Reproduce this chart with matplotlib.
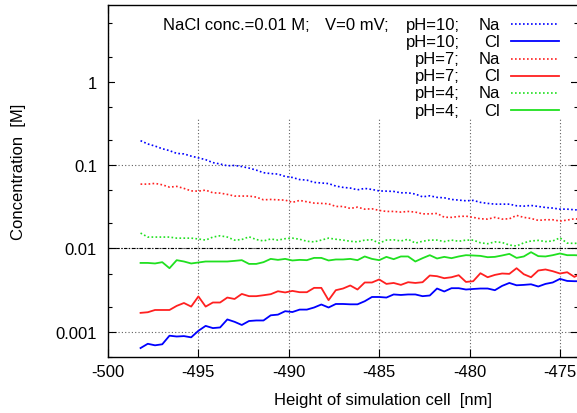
import matplotlib
matplotlib.use('Agg')
import matplotlib.pyplot as plt
import matplotlib.ticker as mticker
from matplotlib.patches import Rectangle
import numpy as np

plt.rcParams['font.family'] = ['Liberation Sans', 'DejaVu Sans']
plt.rcParams['font.size'] = 12
plt.rcParams['axes.unicode_minus'] = False

# sampling positions along the cell [nm]
height = np.round(-498.2 + 0.4 * np.arange(62), 1)

na_ph10 = [0.196, 0.179, 0.169, 0.157, 0.149, 0.138, 0.136, 0.128, 0.122, 0.116,
           0.107, 0.103, 0.098, 0.099, 0.096, 0.092, 0.087, 0.081, 0.079, 0.078,
           0.073, 0.071, 0.067, 0.066, 0.062, 0.061, 0.060, 0.056, 0.054, 0.053,
           0.0505, 0.0525, 0.051, 0.049, 0.0487, 0.0483, 0.0465, 0.0465, 0.0449, 0.0416,
           0.0428, 0.041, 0.0405, 0.0387, 0.038, 0.0373, 0.0377, 0.0357, 0.0347, 0.034,
           0.034, 0.034, 0.0325, 0.0322, 0.0328, 0.0319, 0.031, 0.0305, 0.0296, 0.0296,
           0.0291, 0.0288]
cl_ph10 = [0.00064, 0.00072, 0.00069, 0.00071, 0.00090, 0.00088, 0.00089, 0.00086, 0.00103, 0.00118,
           0.00111, 0.00113, 0.00141, 0.00132, 0.00121, 0.00135, 0.00137, 0.00137, 0.00158, 0.00161,
           0.00177, 0.00173, 0.00185, 0.00185, 0.00196, 0.00213, 0.00196, 0.00216, 0.00216, 0.00214,
           0.00214, 0.00233, 0.00262, 0.00262, 0.00258, 0.00281, 0.00277, 0.00281, 0.00281, 0.00268,
           0.00273, 0.00331, 0.00305, 0.00334, 0.00334, 0.00322, 0.00327, 0.00331, 0.00331, 0.00316,
           0.00356, 0.00386, 0.00362, 0.00366, 0.00372, 0.00350, 0.00376, 0.00391, 0.00432, 0.00408,
           0.00405, 0.00405]
na_ph7 = [0.0591, 0.0591, 0.0603, 0.058, 0.0544, 0.0555, 0.0525, 0.049, 0.0487, 0.0501,
          0.0465, 0.0461, 0.0445, 0.0425, 0.0425, 0.0425, 0.0413, 0.0383, 0.0387, 0.0383,
          0.038, 0.0357, 0.0377, 0.0363, 0.035, 0.0347, 0.0343, 0.0319, 0.0319, 0.0302,
          0.0313, 0.0296, 0.0299, 0.0286, 0.0278, 0.0278, 0.0273, 0.0278, 0.0273, 0.026,
          0.026, 0.0263, 0.0237, 0.0236, 0.0242, 0.0244, 0.0236, 0.0227, 0.0225, 0.0236,
          0.0225, 0.0227, 0.0249, 0.0236, 0.0229, 0.0217, 0.0221, 0.0221, 0.0213, 0.0219,
          0.0227, 0.0223]
cl_ph7 = [0.00169, 0.00172, 0.00183, 0.00183, 0.00183, 0.00205, 0.00222, 0.00201, 0.00266, 0.00201,
          0.00225, 0.00225, 0.00258, 0.00248, 0.00285, 0.00268, 0.00268, 0.00275, 0.00283, 0.00307,
          0.00297, 0.00310, 0.00299, 0.00299, 0.00337, 0.00337, 0.00240, 0.00316, 0.00331, 0.00360,
          0.00322, 0.00391, 0.00391, 0.00425, 0.00376, 0.00386, 0.00366, 0.00394, 0.00386, 0.00394,
          0.00474, 0.00465, 0.00440, 0.00452, 0.00478, 0.00397, 0.00405, 0.00505, 0.00452, 0.00482,
          0.00501, 0.00496, 0.00580, 0.00491, 0.00452, 0.00544, 0.00560, 0.00534, 0.00501, 0.00519,
          0.00456, 0.00509]
na_ph4 = [0.0153, 0.0137, 0.0137, 0.0137, 0.0137, 0.0133, 0.0133, 0.0133, 0.0130, 0.0126,
          0.0137, 0.0142, 0.0137, 0.0126, 0.0128, 0.0138, 0.0128, 0.0123, 0.0130, 0.0126,
          0.0131, 0.0133, 0.0129, 0.0122, 0.0120, 0.0126, 0.0133, 0.0129, 0.0126, 0.0122,
          0.0120, 0.0126, 0.0127, 0.0116, 0.0126, 0.0127, 0.0123, 0.0129, 0.0116, 0.0122,
          0.0126, 0.0126, 0.0121, 0.0126, 0.0122, 0.0126, 0.0126, 0.0117, 0.0114, 0.0120,
          0.0118, 0.0110, 0.0107, 0.0117, 0.0123, 0.0125, 0.0121, 0.0123, 0.0134, 0.0116,
          0.0115, 0.0117]
cl_ph4 = [0.00671, 0.00671, 0.00661, 0.00685, 0.00580, 0.00724, 0.00698, 0.00661, 0.00679, 0.00698,
          0.00698, 0.00698, 0.00698, 0.00710, 0.00724, 0.00653, 0.00653, 0.00685, 0.00750, 0.00730,
          0.00750, 0.00718, 0.00730, 0.00724, 0.00771, 0.00771, 0.00718, 0.00738, 0.00738, 0.00750,
          0.00724, 0.00802, 0.00750, 0.00724, 0.00793, 0.00744, 0.00802, 0.00802, 0.00698, 0.00765,
          0.00831, 0.00758, 0.00793, 0.00765, 0.00802, 0.00831, 0.00824, 0.00815, 0.00786, 0.00793,
          0.00824, 0.00861, 0.00771, 0.00802, 0.00903, 0.00809, 0.00802, 0.00831, 0.00871, 0.00831,
          0.00831, 0.00824]

series = [
    (na_ph10, 'blue', 'dot', 'pH=10;', 'Na'),
    (cl_ph10, 'blue', 'solid', 'pH=10;', 'Cl'),
    (na_ph7, '#ff2020', 'dot', 'pH=7;', 'Na'),
    (cl_ph7, '#ff2020', 'solid', 'pH=7;', 'Cl'),
    (na_ph4, '#20e020', 'dot', 'pH=4;', 'Na'),
    (cl_ph4, '#20e020', 'solid', 'pH=4;', 'Cl'),
]

fig = plt.figure(figsize=(5.77, 4.14), dpi=100)
ax = fig.add_axes([0.1872, 0.1353, 0.8146, 0.8502])

ax.set_yscale('log')
ax.set_xlim(-500, -474)
ax.set_ylim(5e-4, 8.3)

dotted = (0, (1, 1.4))
for vals, col, style, ph, ion in series:
    ls = dotted if style == 'dot' else '-'
    lw = 1.2 if style == 'dot' else 1.3
    ax.plot(height, vals, color=col, ls=ls, lw=lw, zorder=3)

# reference concentration line
ax.axhline(0.01, color='black', lw=0.8, ls=(0, (3, 1.5, 1, 1.5)), zorder=2)

# grid
ax.grid(True, which='major', color='#606060', ls=(0, (1, 2)), lw=0.8)
ax.set_axisbelow(True)

# opaque key area
ax.add_patch(Rectangle((0.015, 0.676), 0.97, 0.32, transform=ax.transAxes,
                       facecolor='white', edgecolor='none', zorder=1))

ax.set_xticks([-500, -495, -490, -485, -480, -475])
ax.set_yticks([0.001, 0.01, 0.1, 1])
ax.set_yticklabels(['0.001', '0.01', '0.1', '1'])
ax.yaxis.set_minor_locator(mticker.LogLocator(base=10, subs=(2, 5)))
ax.yaxis.set_minor_formatter(mticker.NullFormatter())
ax.tick_params(which='both', direction='in', top=True, right=True, width=0.8)
ax.tick_params(which='major', length=6)
ax.tick_params(which='minor', length=3)
ax.tick_params(axis='y', pad=8)
ax.tick_params(axis='x', pad=5)
for s in ax.spines.values():
    s.set_linewidth(1.0)

ax.set_xlabel('Height of simulation cell  [nm]', va='center')
ax.xaxis.set_label_coords(0.584, -0.122)
ax.set_ylabel('Concentration  [M]', va='center')
ax.yaxis.set_label_coords(-0.19, 0.529)

# key, gnuplot style: text right-aligned, sample on the right
ky = 0.946
step = 0.049
ax.text(0.428, ky, 'NaCl conc.=0.01 M;', transform=ax.transAxes, ha='right', va='center', zorder=4)
ax.text(0.598, ky, 'V=0 mV;', transform=ax.transAxes, ha='right', va='center', zorder=4)
for i, (vals, col, style, ph, ion) in enumerate(series):
    y = ky - i * step
    ls = dotted if style == 'dot' else '-'
    lw = 1.2 if style == 'dot' else 1.3
    ax.text(0.749, y, ph, transform=ax.transAxes, ha='right', va='center', zorder=4)
    ax.text(0.834, y, ion, transform=ax.transAxes, ha='right', va='center', zorder=4)
    ax.plot([0.857, 0.960], [y, y], color=col, ls=ls, lw=lw,
            transform=ax.transAxes, clip_on=False, zorder=4)

fig.savefig('out.png', dpi=100)
